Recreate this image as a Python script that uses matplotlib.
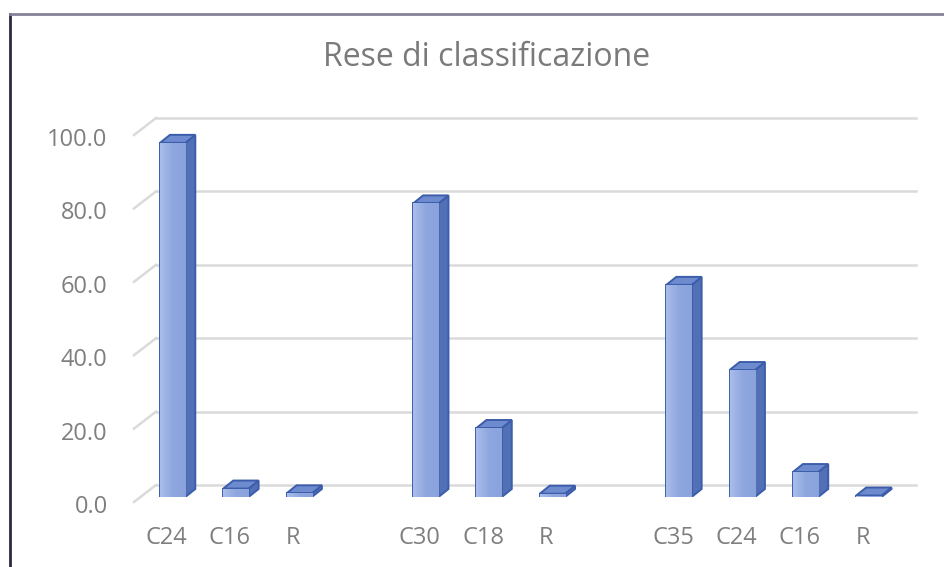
import numpy as np
import matplotlib
matplotlib.use('Agg')
import matplotlib.pyplot as plt
from matplotlib.patches import Polygon
from matplotlib.lines import Line2D
from matplotlib.transforms import ScaledTranslation
from matplotlib.colors import LinearSegmentedColormap

# dati: tre prove di classificazione, una colonna vuota tra i gruppi
categorie = ['C24', 'C16', 'R', '', 'C30', 'C18', 'R', '', 'C35', 'C24', 'C16', 'R']
rese = [96.5, 2.3, 1.0, np.nan, 80.0, 18.8, 0.9, np.nan, 57.8, 34.6, 6.8, 0.4]
tick_y = [0, 20, 40, 60, 80, 100]

plt.rcParams['font.family'] = ['Open Sans', 'DejaVu Sans']
grigio = '#7f7f7f'

fig = plt.figure(figsize=(9.44, 5.67), dpi=100)
fig.patch.set_facecolor('white')
W, H = 944, 567
ax = fig.add_axes([141 / W, 70 / H, 759.5 / W, 367 / H])
ax.set_xlim(-0.5, len(categorie) - 0.5)
ax.set_ylim(0, 100)
ax.patch.set_alpha(0)
for s in ax.spines.values():
    s.set_visible(False)

x = np.arange(len(categorie))
larg = 0.4

# profondita in pixel: parete di fondo e spessore delle colonne
fondo = (15, 12)
prof = (10, 8)
fronte = (-7, -5)


def px(xx, yy):
    return ax.transData.transform((xx, yy))


# parete di fondo con la griglia e il lato sinistro
for v in tick_y:
    a = px(-0.5, v) + fondo
    b = px(len(categorie) - 0.5, v) + fondo
    fig.add_artist(Line2D([a[0], b[0]], [a[1], b[1]], transform=None,
                          color='#dadada', lw=1.8, zorder=0))
    c = px(-0.5, v) + fronte
    fig.add_artist(Line2D([c[0], a[0]], [c[1], a[1]], transform=None,
                          color='#dadada', lw=1.8, zorder=0))

# colonne: faccia frontale sfumata, lato e tetto piu scuri
cmap = LinearSegmentedColormap.from_list('fronte', ['#aabdea', '#8ea7df', '#8aa3dd'])
bars = ax.bar(x, np.nan_to_num(rese), width=larg, color='#98b0e2',
              edgecolor='#3b5daa', linewidth=1.4, zorder=3)
for b, v in zip(bars, rese):
    if np.isnan(v):
        b.set_visible(False)
        continue
    x0, x1 = b.get_x(), b.get_x() + b.get_width()
    img = ax.imshow(np.linspace(0, 1, 50).reshape(1, -1), cmap=cmap,
                    extent=(x0, x1, 0, v), aspect='auto', zorder=3)
    img.set_clip_path(b)
    p00, p10 = px(x0, v), px(x1, v)
    q10 = px(x1, 0)
    tetto = [p00, p10, p10 + prof, p00 + prof]
    lato = [q10, p10, p10 + prof, q10 + prof]
    ax.add_artist(Polygon(lato, closed=True, transform=None, facecolor='#5270b6',
                          edgecolor='#3b5daa', lw=1.4, zorder=2))
    ax.add_artist(Polygon(tetto, closed=True, transform=None, facecolor='#6f8bd0',
                          edgecolor='#3b5daa', lw=1.4, zorder=2))
ax.set_xlim(-0.5, len(categorie) - 0.5)
ax.set_ylim(0, 100)

ax.set_yticks(tick_y)
ax.set_yticklabels(['%.1f' % v for v in tick_y])
ax.set_xticks(x)
ax.set_xticklabels(categorie)
ax.tick_params(axis='y', length=0, pad=24, labelsize=17, labelcolor=grigio)
ax.tick_params(axis='x', length=0, pad=21, labelsize=17, labelcolor=grigio)
for t in ax.get_yticklabels():
    t.set_transform(t.get_transform() + ScaledTranslation(0, -0.07, fig.dpi_scale_trans))
for t in ax.get_xticklabels():
    t.set_transform(t.get_transform() + ScaledTranslation(-0.06, 0, fig.dpi_scale_trans))

fig.text(487 / W, 1 - 58 / H, 'Rese di classificazione', ha='center', va='center',
         fontsize=23, color='#7a7a7a')

# cornice del grafico (solo lato sinistro e superiore)
fig.add_artist(Line2D([9.5, 9.5], [0, H - 14], transform=None, color='#2b2a40', lw=2))
fig.add_artist(Line2D([9.5, W], [H - 14, H - 14], transform=None, color='#858199', lw=2))

fig.savefig('out.png', dpi=100)
